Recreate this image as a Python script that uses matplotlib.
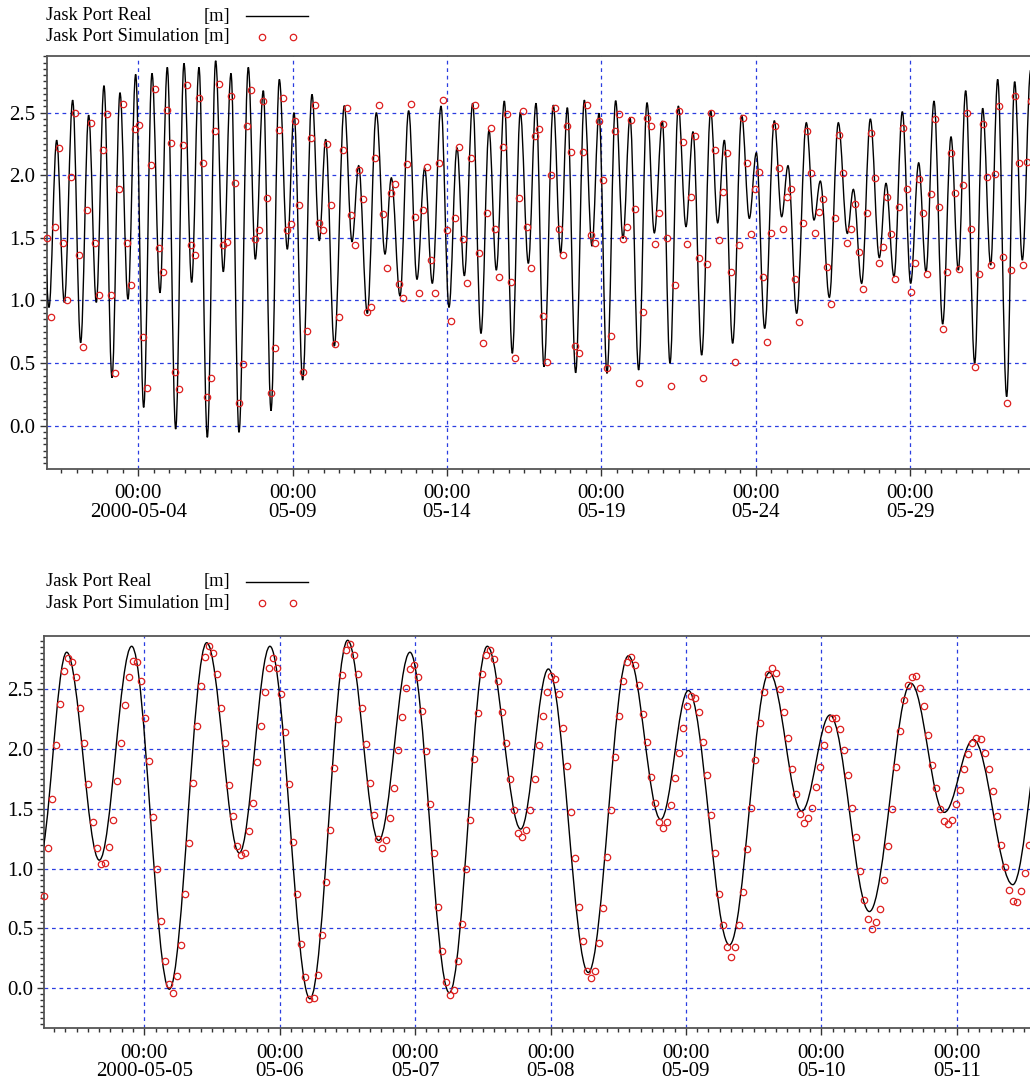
import datetime as dt
import numpy as np
import matplotlib
matplotlib.use('Agg')
import matplotlib.pyplot as plt
import matplotlib.dates as mdates
from matplotlib.path import Path
from matplotlib.patches import PathPatch
from matplotlib.lines import Line2D
from matplotlib.ticker import FixedLocator, FixedFormatter, MultipleLocator, FormatStrFormatter

plt.rcParams['font.family'] = ['Liberation Serif', 'DejaVu Serif']

# all times are given as day of May 2000 (4.5 = 2000-05-04 12:00)
MAY0 = mdates.date2num(dt.datetime(2000, 4, 30))

# ---- upper panel, whole month ----
# turning points (high / low water) of the measured level [m]
top_real_day = [0.85, 1.107, 1.356, 1.604, 1.874, 2.133, 2.392, 2.640, 2.889, 3.148,
                3.407, 3.666, 3.915, 4.174, 4.444, 4.703, 4.940, 5.211, 5.480, 5.729,
                5.966, 6.236, 6.506, 6.754, 7.003, 7.262, 7.564, 7.791, 8.050, 8.299,
                8.569, 8.828, 9.044, 9.325, 9.627, 9.864, 10.070, 10.350, 10.674, 10.923,
                11.139, 11.419, 11.711, 11.992, 12.197, 12.478, 12.758, 13.028, 13.277, 13.525,
                13.806, 14.065, 14.324, 14.562, 14.832, 15.101, 15.361, 15.598, 15.857, 16.116,
                16.375, 16.635, 16.883, 17.142, 17.445, 17.682, 17.898, 18.168, 18.449, 18.697,
                18.924, 19.183, 19.464, 19.702, 19.928, 20.209, 20.479, 20.716, 20.976, 21.224,
                21.494, 21.742, 21.969, 22.250, 22.542, 22.768, 22.984, 23.254, 23.546, 23.794,
                24.021, 24.291, 24.604, 24.841, 25.047, 25.327, 25.640, 25.889, 26.094, 26.386,
                26.677, 26.968, 27.163, 27.433, 27.714, 28.005, 28.221, 28.480, 28.750, 29.020,
                29.280, 29.517, 29.776, 30.057, 30.327, 30.564, 30.802, 31.094, 31.353, 31.612,
                31.839, 32.130, 32.389, 32.638, 32.908]
top_real_lvl = [2.20, 0.945, 2.28, 0.985, 2.60, 0.663, 2.48, 0.985, 2.716, 0.383,
                2.66, 1.01, 2.806, 0.146, 2.814, 1.062, 2.862, -0.027, 2.894, 1.145,
                2.862, -0.093, 2.915, 1.23, 2.814, -0.053, 2.862, 1.33, 2.676, 0.12,
                2.766, 1.41, 2.50, 0.365, 2.646, 1.478, 2.287, 0.636, 2.556, 1.47,
                2.077, 0.897, 2.50, 1.371, 1.98, 1.036, 2.516, 1.169, 2.058, 1.137,
                2.553, 0.945, 2.22, 1.198, 2.575, 0.737, 2.362, 1.243, 2.593, 0.578,
                2.503, 1.297, 2.575, 0.471, 2.56, 1.376, 2.54, 0.423, 2.60, 1.435,
                2.495, 0.418, 2.596, 1.496, 2.463, 0.445, 2.58, 1.54, 2.433, 0.498,
                2.553, 1.59, 2.348, 0.564, 2.516, 1.62, 2.28, 0.658, 2.48, 1.656,
                2.18, 0.777, 2.436, 1.669, 2.077, 0.897, 2.42, 1.643, 1.954, 1.025,
                2.42, 1.536, 1.888, 1.137, 2.45, 1.342, 1.936, 1.19, 2.508, 1.137,
                2.10, 1.23, 2.593, 0.812, 2.308, 1.243, 2.676, 0.498, 2.535, 1.283,
                2.766, 0.232, 2.748, 1.323, 2.84]

# simulated level, one sample every ~3.1 h
top_sim_start = 1.03
top_sim_step = 0.12967
top_sim_lvl = [1.50, 0.87, 1.59, 2.22, 1.46, 1.00, 1.99, 2.50, 1.36, 0.63,
               1.72, 2.42, 1.46, 1.04, 2.20, 2.49, 1.04, 0.42, 1.89, 2.57,
               1.46, 1.12, 2.37, 2.40, 0.71, 0.30, 2.08, 2.69, 1.42, 1.23,
               2.52, 2.26, 0.43, 0.29, 2.24, 2.72, 1.44, 1.36, 2.62, 2.10,
               0.23, 0.38, 2.35, 2.73, 1.44, 1.47, 2.63, 1.94, 0.18, 0.49,
               2.39, 2.68, 1.49, 1.56, 2.59, 1.82, 0.26, 0.62, 2.36, 2.62,
               1.56, 1.61, 2.43, 1.76, 0.43, 0.76, 2.30, 2.56, 1.62, 1.56,
               2.25, 1.76, 0.65, 0.87, 2.20, 2.54, 1.68, 1.44, 2.04, 1.81,
               0.91, 0.95, 2.14, 2.56, 1.69, 1.26, 1.86, 1.93, 1.13, 1.02,
               2.09, 2.57, 1.67, 1.06, 1.72, 2.07, 1.32, 1.06, 2.10, 2.60,
               1.56, 0.84, 1.66, 2.23, 1.49, 1.14, 2.14, 2.56, 1.38, 0.66,
               1.70, 2.38, 1.57, 1.19, 2.23, 2.49, 1.15, 0.54, 1.82, 2.51,
               1.59, 1.26, 2.31, 2.37, 0.88, 0.51, 2.00, 2.54, 1.57, 1.36,
               2.39, 2.19, 0.64, 0.58, 2.19, 2.56, 1.52, 1.46, 2.43, 1.96,
               0.46, 0.72, 2.35, 2.49, 1.49, 1.59, 2.44, 1.73, 0.34, 0.91,
               2.46, 2.39, 1.45, 1.70, 2.41, 1.50, 0.32, 1.12, 2.51, 2.27,
               1.45, 1.83, 2.31, 1.34, 0.38, 1.29, 2.50, 2.20, 1.48, 1.87,
               2.18, 1.23, 0.51, 1.44, 2.46, 2.10, 1.53, 1.89, 2.03, 1.19,
               0.67, 1.54, 2.39, 2.06, 1.57, 1.83, 1.89, 1.17, 0.83, 1.62,
               2.35, 2.02, 1.54, 1.71, 1.81, 1.27, 0.97, 1.66, 2.32, 2.02,
               1.46, 1.57, 1.77, 1.39, 1.09, 1.70, 2.34, 1.98, 1.30, 1.43,
               1.83, 1.53, 1.17, 1.75, 2.38, 1.89, 1.07, 1.30, 1.97, 1.70,
               1.21, 1.85, 2.45, 1.75, 0.77, 1.23, 2.18, 1.86, 1.25, 1.92,
               2.50, 1.57, 0.47, 1.21, 2.41, 1.99, 1.28, 2.01, 2.55, 1.35,
               0.18, 1.24, 2.63, 2.10, 1.28, 2.11, 2.59]

top_major_days = [4, 9, 14, 19, 24, 29]

# ---- lower panel, one week ----
bot_real_day = [4.22, 4.427, 4.668, 4.907, 5.185, 5.461, 5.702, 5.928, 6.224, 6.502,
                6.731, 6.962, 7.253, 7.533, 7.780, 7.984, 8.279, 8.575, 8.814, 9.018,
                9.321, 9.616, 9.855, 10.064, 10.355, 10.662, 10.908, 11.123, 11.414, 11.66]
bot_real_lvl = [1.05, 2.81, 1.07, 2.86, -0.01, 2.89, 1.13, 2.86, -0.09, 2.91,
                1.235, 2.81, -0.04, 2.86, 1.33, 2.67, 0.13, 2.78, 1.41, 2.49,
                0.36, 2.64, 1.48, 2.285, 0.64, 2.55, 1.47, 2.08, 0.865, 2.35]

bot_sim_start = 4.2617
bot_sim_step = 0.029673
bot_sim_lvl = [0.77, 1.17, 1.58, 2.03, 2.38, 2.65, 2.76, 2.73, 2.60, 2.34,
               2.05, 1.71, 1.39, 1.17, 1.04, 1.05, 1.18, 1.41, 1.73, 2.05,
               2.37, 2.60, 2.74, 2.73, 2.57, 2.26, 1.90, 1.43, 1.00, 0.56,
               0.23, 0.03, -0.04, 0.10, 0.36, 0.79, 1.21, 1.72, 2.19, 2.53,
               2.77, 2.86, 2.80, 2.63, 2.34, 2.05, 1.70, 1.44, 1.19, 1.11,
               1.13, 1.31, 1.55, 1.89, 2.19, 2.48, 2.68, 2.76, 2.68, 2.46,
               2.14, 1.71, 1.22, 0.79, 0.37, 0.09, -0.09, -0.08, 0.11, 0.44,
               0.89, 1.32, 1.84, 2.25, 2.62, 2.83, 2.88, 2.79, 2.63, 2.34,
               2.04, 1.72, 1.45, 1.25, 1.17, 1.24, 1.42, 1.67, 1.99, 2.27,
               2.51, 2.67, 2.70, 2.60, 2.32, 1.98, 1.54, 1.13, 0.68, 0.31,
               0.05, -0.06, -0.02, 0.23, 0.54, 1.00, 1.41, 1.92, 2.30, 2.63,
               2.79, 2.83, 2.75, 2.57, 2.31, 2.05, 1.75, 1.49, 1.30, 1.26,
               1.32, 1.49, 1.75, 2.03, 2.28, 2.48, 2.61, 2.59, 2.46, 2.18,
               1.86, 1.47, 1.09, 0.68, 0.39, 0.14, 0.08, 0.14, 0.38, 0.67,
               1.10, 1.49, 1.93, 2.28, 2.57, 2.73, 2.77, 2.70, 2.54, 2.29,
               2.06, 1.77, 1.55, 1.39, 1.34, 1.39, 1.53, 1.76, 1.97, 2.18,
               2.36, 2.44, 2.43, 2.31, 2.06, 1.78, 1.45, 1.13, 0.79, 0.53,
               0.34, 0.26, 0.34, 0.53, 0.80, 1.16, 1.51, 1.91, 2.22, 2.48,
               2.63, 2.68, 2.64, 2.50, 2.31, 2.09, 1.83, 1.62, 1.46, 1.38,
               1.42, 1.51, 1.68, 1.85, 2.03, 2.17, 2.26, 2.26, 2.17, 1.99,
               1.78, 1.51, 1.26, 0.98, 0.74, 0.58, 0.49, 0.55, 0.66, 0.90,
               1.19, 1.50, 1.85, 2.15, 2.41, 2.54, 2.60, 2.61, 2.51, 2.36,
               2.12, 1.87, 1.67, 1.50, 1.40, 1.37, 1.41, 1.54, 1.66, 1.83,
               1.96, 2.05, 2.09, 2.08, 1.97, 1.83, 1.65, 1.44, 1.20, 1.01,
               0.82, 0.73, 0.72, 0.81, 0.96, 1.20]

bot_major_days = [5, 6, 7, 8, 9, 10, 11]

GRID_BLUE = '#2a3de0'
SIM_RED = '#dd2020'
W, H = 1030, 1083


def tide_path(days, levels, k=0.36):
    # smooth curve through the turning points, flat at each high / low
    x = MAY0 + np.asarray(days, dtype=float)
    y = np.asarray(levels, dtype=float)
    verts = [(x[0], y[0])]
    codes = [Path.MOVETO]
    for i in range(len(x) - 1):
        dx = x[i + 1] - x[i]
        verts += [(x[i] + k * dx, y[i]), (x[i + 1] - k * dx, y[i + 1]), (x[i + 1], y[i + 1])]
        codes += [Path.CURVE4] * 3
    return Path(verts, codes)


def panel(rect, real_day, real_lvl, sim_start, sim_step, sim_lvl,
          xlim, ylim, majors, minor_step):
    ax = fig.add_axes(rect)
    ax.add_patch(PathPatch(tide_path(real_day, real_lvl), fill=False,
                           edgecolor='black', lw=1.0, zorder=3))
    t_sim = MAY0 + sim_start + sim_step * np.arange(len(sim_lvl))
    ax.plot(t_sim, sim_lvl, 'o', mfc='none', mec=SIM_RED, ms=4.6, mew=0.9,
            zorder=4, clip_on=False)

    ax.set_xlim(MAY0 + xlim[0], MAY0 + xlim[1])
    ax.set_ylim(*ylim)

    labels = []
    for i, d in enumerate(majors):
        day = dt.date(2000, 5, d)
        if i == 0:
            labels.append('00:00\n' + day.strftime('%Y-%m-%d'))
        else:
            labels.append('00:00\n' + day.strftime('%m-%d'))
    ax.xaxis.set_major_locator(FixedLocator([MAY0 + d for d in majors]))
    ax.xaxis.set_major_formatter(FixedFormatter(labels))
    ax.xaxis.set_minor_locator(MultipleLocator(minor_step))
    ax.yaxis.set_major_locator(MultipleLocator(0.5))
    ax.yaxis.set_minor_locator(MultipleLocator(0.05))
    ax.yaxis.set_major_formatter(FormatStrFormatter('%.1f'))

    ax.grid(True, which='major', color=GRID_BLUE, linestyle=(0, (3, 3)), lw=0.9)
    ax.tick_params(which='major', length=5, width=1, color='#333333',
                   labelsize=15, labelcolor='black', pad=3)
    ax.tick_params(which='minor', length=3, width=1, color='#333333')
    ax.tick_params(axis='x', which='major', pad=6)
    for side in ['left', 'bottom', 'top']:
        ax.spines[side].set_color('#555555')
        ax.spines[side].set_linewidth(1.3)
    ax.spines['right'].set_visible(False)
    return ax


def legend(y_real, y_sim):
    fs = 13.2
    fig.text(45.5 / W, 1 - y_real / H, 'Jask Port Real', fontsize=fs, va='center')
    fig.text(204 / W, 1 - y_real / H, '[m]', fontsize=fs, va='center')
    fig.add_artist(Line2D([246 / W, 308 / W], [1 - y_real / H] * 2,
                          color='black', lw=1.0))
    fig.text(45.5 / W, 1 - y_sim / H, 'Jask Port Simulation', fontsize=fs, va='center')
    fig.text(204 / W, 1 - y_sim / H, '[m]', fontsize=fs, va='center')
    fig.add_artist(Line2D([262 / W, 293 / W], [1 - y_sim / H] * 2, ls='none',
                          marker='o', mfc='none', mec=SIM_RED, ms=4.6, mew=0.9))


fig = plt.figure(figsize=(W / 100, H / 100), dpi=100)

ax_top = panel([46.7 / W, 1 - 469 / H, 1 - 46.7 / W, (469 - 56) / H],
               top_real_day, top_real_lvl, top_sim_start, top_sim_step, top_sim_lvl,
               (1.033, 32.886), (-0.346, 2.953), top_major_days, 0.5)
ax_bot = panel([44.3 / W, 1 - 1028.3 / H, 1 - 44.3 / W, (1028.3 - 636) / H],
               bot_real_day, bot_real_lvl, bot_sim_start, bot_sim_step, bot_sim_lvl,
               (4.2617, 11.541), (-0.337, 2.946), bot_major_days, 1 / 12)

legend(16, 36.5)
legend(581.5, 603)

fig.canvas.draw()
for ax in (ax_top, ax_bot):
    for lbl in ax.get_xticklabels():
        lbl.set_linespacing(0.95)

fig.savefig('out.png', dpi=100)
